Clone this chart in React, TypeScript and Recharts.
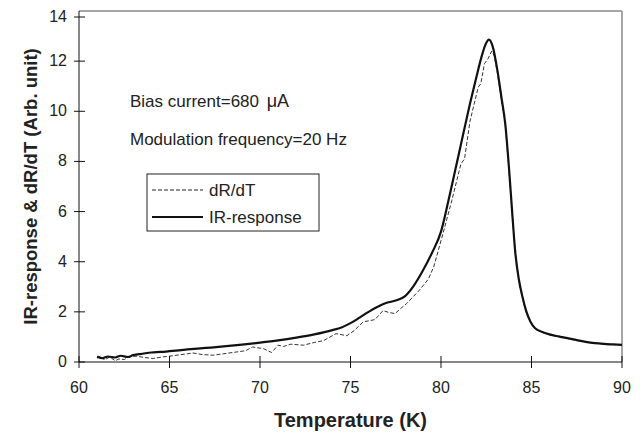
import React from 'react';
import { LineChart, Line, XAxis, YAxis, ReferenceLine, Customized } from 'recharts';

const xTicks = [60, 65, 70, 75, 80, 85, 90];
const yTicks = [0, 2, 4, 6, 8, 10, 12, 14];

const seriesNames = ['dR/dT', 'IR-response'];
const notes = ['Bias current=680 ', '\u03bcA', 'Modulation frequency=20 Hz'];

const irTemp = [
  61.0, 61.3, 61.6, 62.0, 62.3, 62.7, 63.0, 63.5, 64.0, 64.5, 65.0, 66.0, 67.0, 68.0, 69.0, 70.0,
  71.0, 72.0, 73.0, 74.0, 74.5, 75.0, 75.5, 76.0, 76.5, 77.0, 77.5, 78.0, 78.5, 79.0, 79.5, 80.0,
  80.4, 80.8, 81.2, 81.6, 81.95, 82.25, 82.45, 82.65, 82.85, 83.1, 83.35, 83.55, 83.75, 83.95, 84.1,
  84.3, 84.5, 84.7, 84.95, 85.2, 85.6, 86.0, 86.5, 87.0, 87.5, 88.0, 88.5, 89.0, 89.5, 90.0,
];
const irValue = [
  0.22, 0.15, 0.22, 0.18, 0.25, 0.2, 0.28, 0.33, 0.38, 0.4, 0.43, 0.5, 0.56, 0.62, 0.69, 0.77,
  0.86, 0.97, 1.1, 1.27, 1.38, 1.55, 1.77, 2.0, 2.2, 2.36, 2.45, 2.62, 3.05, 3.65, 4.35, 5.2,
  6.4, 7.7, 9.0, 10.3, 11.35, 12.2, 12.65, 12.86, 12.6, 11.7, 10.5, 9.5, 7.8, 5.8, 4.4,
  3.3, 2.6, 2.05, 1.6, 1.35, 1.2, 1.1, 1.02, 0.95, 0.87, 0.8, 0.75, 0.72, 0.7, 0.68,
];

const drTemp = [
  61.0, 61.2, 61.4, 61.7, 62.0, 62.2, 62.5, 62.8, 63.2, 63.6, 64.1, 64.6, 65.0, 65.5, 66.0, 66.3,
  66.8, 67.4, 68.0, 68.7, 69.2, 69.6, 70.2, 70.64, 71.0, 71.3, 71.7, 72.4, 73.0, 73.5, 74.2, 74.8,
  75.2, 75.7, 76.35, 76.8, 77.1, 77.46, 77.8, 78.1, 78.8, 79.3, 79.6, 80.1, 80.6, 81.1, 81.3, 81.6,
  82.06, 82.2, 82.4, 82.6, 82.8, 82.95, 83.1, 83.35, 83.55, 83.75, 83.95, 84.1, 84.3, 84.5, 84.7,
  84.95, 85.2, 85.6, 86.0, 86.5, 86.8, 87.0, 87.5, 88.0, 88.5, 89.0, 89.5, 90.0,
];
const drValue = [
  0.15, 0.25, 0.08, 0.2, 0.05, 0.12, 0.1, 0.22, 0.23, 0.18, 0.14, 0.2, 0.23, 0.28, 0.33, 0.36,
  0.3, 0.27, 0.33, 0.4, 0.45, 0.6, 0.53, 0.38, 0.67, 0.62, 0.71, 0.67, 0.78, 0.85, 1.13, 1.05,
  1.25, 1.6, 1.69, 2.05, 1.98, 1.93, 2.15, 2.33, 2.86, 3.3, 3.8, 5.1, 6.45, 7.9, 8.1, 9.6,
  10.97, 11.1, 11.9, 12.1, 12.4, 12.2, 11.6, 10.4, 9.5, 7.7, 5.75, 4.4, 3.25, 2.55, 2.0,
  1.58, 1.33, 1.18, 1.08, 1.0, 1.02, 0.93, 0.86, 0.8, 0.75, 0.72, 0.7, 0.68,
];

const irData = irTemp.map((t, i) => ({ t, v: irValue[i] }));
const drData = drTemp.map((t, i) => ({ t, v: drValue[i] }));

const FONT = '"Liberation Sans", Arial, sans-serif';
const PLOT_LEFT = 71;
const PLOT_BOTTOM = 354;

const YTick = (props: any) => {
  const { y, payload } = props;
  return (
    <g>
      <line x1={PLOT_LEFT - 5} x2={PLOT_LEFT + 6} y1={y} y2={y} stroke="#111" />
      <text x={PLOT_LEFT - 12} y={y} dy={5} textAnchor="end" fontSize={16} fill="#222" fontFamily={FONT}>
        {payload.value}
      </text>
    </g>
  );
};

const XTick = (props: any) => {
  const { x, payload } = props;
  return (
    <g>
      <line x1={x} x2={x} y1={PLOT_BOTTOM - 6} y2={PLOT_BOTTOM + 6} stroke="#111" />
      <text x={x} y={PLOT_BOTTOM + 31} textAnchor="middle" fontSize={16} fill="#222" fontFamily={FONT}>
        {payload.value}
      </text>
    </g>
  );
};

// annotation text and the boxed legend
const Extras = () => (
  <g fontFamily={FONT} fill="#222">
    <text x={122} y={99} fontSize={17}>
      {notes[0]}
      <tspan dx={3} fontSize={18}>{notes[1]}</tspan>
    </text>
    <text x={122} y={137} fontSize={17}>{notes[2]}</text>
    <rect x={139} y={166} width={172} height={57} fill="#fff" stroke="#222" strokeWidth={1} />
    <line x1={144} x2={195} y1={182} y2={182} stroke="#222" strokeDasharray="4 2" />
    <text x={201} y={188} fontSize={17}>{seriesNames[0]}</text>
    <line x1={144} x2={195} y1={209} y2={209} stroke="#111" strokeWidth={2} />
    <text x={201} y={215} fontSize={17}>{seriesNames[1]}</text>
  </g>
);

export default function App() {
  return (
    <LineChart width={635} height={425} margin={{ top: 3, right: 21, left: 0, bottom: 0 }}>
      <XAxis
        type="number"
        dataKey="t"
        domain={[60, 90]}
        ticks={xTicks}
        allowDataOverflow
        height={71}
        stroke="#111"
        tickLine={false}
        tick={<XTick />}
        label={{ value: 'Temperature (K)', position: 'insideBottom', offset: 6, fontSize: 20, fontWeight: 'bold', fill: '#222', fontFamily: FONT }}
      />
      <YAxis
        type="number"
        domain={[0, 14]}
        ticks={yTicks}
        width={71}
        stroke="#111"
        tickLine={false}
        tick={<YTick />}
        label={{ value: 'IR-response & dR/dT (Arb. unit)', angle: -90, position: 'insideLeft', offset: 22, fontSize: 18.5, fontWeight: 'bold', fill: '#222', fontFamily: FONT, style: { textAnchor: 'middle' } }}
      />
      <ReferenceLine y={14} stroke="#888" strokeWidth={1.5} />
      <ReferenceLine x={90} stroke="#888" strokeWidth={1.5} />
      <Line data={drData} dataKey="v" type="linear" stroke="#333" strokeWidth={1} strokeDasharray="4 2" dot={false} isAnimationActive={false} />
      <Line data={irData} dataKey="v" type="monotone" stroke="#111" strokeWidth={2.2} dot={false} isAnimationActive={false} />
      <Customized component={Extras} />
    </LineChart>
  );
}
